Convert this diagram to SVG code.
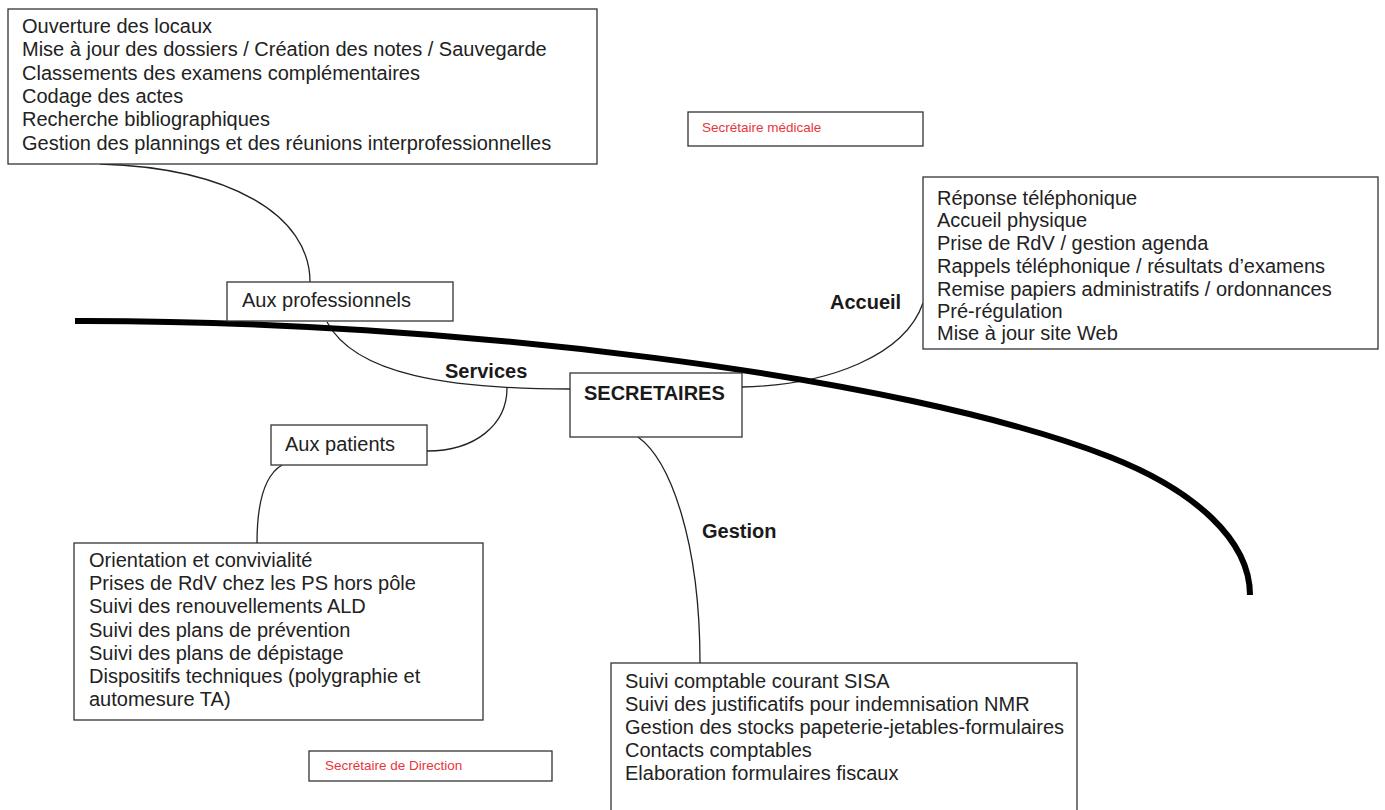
<svg xmlns="http://www.w3.org/2000/svg" width="1385" height="810" viewBox="0 0 1385 810">
<style>
.box{fill:#fff;stroke:#333;stroke-width:1.3}
.t{font-family:"Liberation Sans",Arial,sans-serif;font-size:20px;fill:#222}
.b{font-family:"Liberation Sans",Arial,sans-serif;font-size:20px;font-weight:bold;fill:#1a1a1a}
.r{font-family:"Liberation Sans",Arial,sans-serif;font-size:13.5px;fill:#e8363c}
.c{fill:none;stroke:#222;stroke-width:1.3}
</style>
<rect width="1385" height="810" fill="#fff"/>
<g id="connectors">
<path class="c" d="M100 164 C230 168 310 215 310 282"/>
<path class="c" d="M327 322 C355 375 450 389 570 389"/>
<path class="c" d="M507 388 C507 425 475 451 427 451"/>
<path class="c" d="M282 465 C265 475 257 500 257 543"/>
<path class="c" d="M742 387 C830 385 905 355 923 303"/>
<path class="c" d="M638 437 C670 460 700 540 700 663"/>
<path d="M75 321 C450 320 900 375 1110 457 C1194 490 1250 540 1250 595" fill="none" stroke="#000" stroke-width="6"/>
</g>
<g id="pro-tasks">
<rect class="box" x="8" y="9" width="589" height="155"/>
<text class="t" x="22" y="33">Ouverture des locaux</text>
<text class="t" x="22" y="56">Mise à jour des dossiers / Création des notes / Sauvegarde</text>
<text class="t" x="22" y="79.5">Classements des examens complémentaires</text>
<text class="t" x="22" y="103">Codage des actes</text>
<text class="t" x="22" y="126">Recherche bibliographiques</text>
<text class="t" x="22" y="149.5">Gestion des plannings et des réunions interprofessionnelles</text>
</g>
<g id="sec-medicale">
<rect class="box" x="688" y="112" width="235" height="34"/>
<text class="r" x="702" y="132">Secrétaire médicale</text>
</g>
<g id="accueil-tasks">
<rect class="box" x="923" y="177" width="455" height="172"/>
<text class="t" x="937" y="205">Réponse téléphonique</text>
<text class="t" x="937" y="227">Accueil physique</text>
<text class="t" x="937" y="250">Prise de RdV / gestion agenda</text>
<text class="t" x="937" y="273">Rappels téléphonique / résultats d’examens</text>
<text class="t" x="937" y="296">Remise papiers administratifs / ordonnances</text>
<text class="t" x="937" y="318">Pré-régulation</text>
<text class="t" x="937" y="340">Mise à jour site Web</text>
</g>
<g id="aux-pro">
<rect class="box" x="227" y="282" width="226" height="39"/>
<text class="t" x="242" y="307">Aux professionnels</text>
</g>
<g id="secretaires">
<rect class="box" x="570" y="373" width="172" height="64"/>
<text class="b" x="584" y="400">SECRETAIRES</text>
</g>
<g id="aux-patients">
<rect class="box" x="271" y="425" width="156" height="40"/>
<text class="t" x="285" y="451">Aux patients</text>
</g>
<g id="patient-tasks">
<rect class="box" x="74" y="543" width="409" height="177"/>
<text class="t" x="89" y="567">Orientation et convivialité</text>
<text class="t" x="89" y="590">Prises de RdV chez les PS hors pôle</text>
<text class="t" x="89" y="613">Suivi des renouvellements ALD</text>
<text class="t" x="89" y="636.5">Suivi des plans de prévention</text>
<text class="t" x="89" y="659.5">Suivi des plans de dépistage</text>
<text class="t" x="89" y="683">Dispositifs techniques (polygraphie et</text>
<text class="t" x="89" y="706">automesure TA)</text>
</g>
<g id="gestion-tasks">
<rect class="box" x="611" y="663" width="466" height="160"/>
<text class="t" x="625" y="688">Suivi comptable courant SISA</text>
<text class="t" x="625" y="711">Suivi des justificatifs pour indemnisation NMR</text>
<text class="t" x="625" y="734">Gestion des stocks papeterie-jetables-formulaires</text>
<text class="t" x="625" y="757">Contacts comptables</text>
<text class="t" x="625" y="780">Elaboration formulaires fiscaux</text>
</g>
<g id="sec-direction">
<rect class="box" x="309" y="751" width="243" height="30"/>
<text class="r" x="325" y="770">Secrétaire de Direction</text>
</g>
<g id="labels">
<text class="b" x="830" y="309">Accueil</text>
<text class="b" x="445" y="378">Services</text>
<text class="b" x="702" y="538">Gestion</text>
</g>
</svg>
